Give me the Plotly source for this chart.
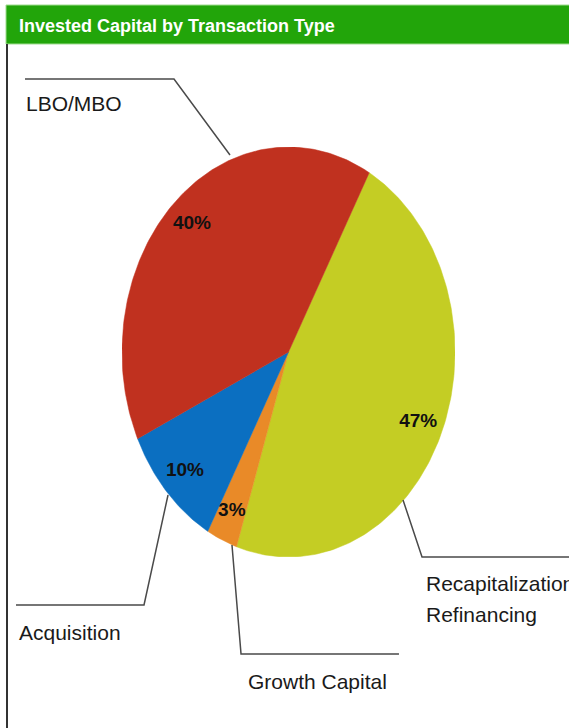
import math
import plotly.graph_objects as go

# ---- data ----
categories = ["Recapitalization/ Refinancing", "Growth Capital", "Acquisition", "LBO/MBO"]
shares = [47, 3, 10, 40]
pct_labels = ["47%", "3%", "10%", "40%"]
colors = ["#C4CD24", "#E98A28", "#0B6FC1", "#C0311F"]
title_text = "Invested Capital by Transaction Type"

W, H = 569, 728
START_DEG = 29  # first slice boundary, clockwise from 12 o'clock


def px(x):
    return x / W


def py(y):
    return 1 - y / H


fig = go.Figure()
total = sum(shares)
start = START_DEG
for cat, v, lab, col in zip(categories, shares, pct_labels, colors):
    span = 360 * v / total
    n = max(int(span), 4)
    xs, ys = [0.0], [0.0]
    for i in range(n + 1):
        a = math.radians(start + span * i / n)
        xs.append(math.sin(a))
        ys.append(math.cos(a))
    xs.append(0.0)
    ys.append(0.0)
    fig.add_trace(go.Scatter(x=xs, y=ys, fill="toself", fillcolor=col,
                             line=dict(color=col, width=0.5), mode="lines",
                             name=cat, hoverinfo="name", showlegend=False))
    mid = math.radians(start + span / 2)
    fig.add_trace(go.Scatter(x=[0.85 * math.sin(mid)], y=[0.85 * math.cos(mid)],
                             mode="text", text=[lab],
                             textfont=dict(family="Liberation Sans", size=19, color="#111111"),
                             texttemplate="<b>%{text}</b>",
                             hoverinfo="skip", showlegend=False))
    start += span

line_col = "#4a4a4a"
leaders = [
    [(25, 79), (174, 79), (230, 155)],
    [(403, 500), (422, 557), (569, 557)],
    [(168, 495), (144, 605), (16, 605)],
    [(232, 545), (241, 654), (399, 654)],
]
shapes = []
for pts in leaders:
    path = "M " + " L ".join(f"{px(x):.4f},{py(y):.4f}" for x, y in pts)
    shapes.append(dict(type="path", xref="paper", yref="paper", path=path,
                       line=dict(color=line_col, width=1.5)))
# header bar
shapes.append(dict(type="rect", xref="paper", yref="paper", x0=px(6), x1=px(575),
                   y0=py(44), y1=py(5), fillcolor="#22A50A",
                   line=dict(color="#9fdc8f", width=1), layer="below"))
# left border
shapes.append(dict(type="line", xref="paper", yref="paper", x0=px(7), x1=px(7),
                   y0=py(44), y1=py(740), line=dict(color="#333333", width=2)))

lab_font = dict(family="Liberation Sans", size=21, color="#1a1a1a")
annotations = [
    dict(text=f"<b>{title_text}</b>", x=px(17), y=py(26),
         font=dict(family="Liberation Sans", size=18, color="white")),
    dict(text=categories[3], x=px(24), y=py(104), font=lab_font),
    dict(text="Recapitalization/", x=px(424), y=py(583), font=lab_font),
    dict(text="Refinancing", x=px(424), y=py(614), font=lab_font),
    dict(text=categories[2], x=px(17), y=py(632), font=lab_font),
    dict(text=categories[1], x=px(246), y=py(681), font=lab_font),
]
for a in annotations:
    a.update(xref="paper", yref="paper", xanchor="left", yanchor="middle",
             showarrow=False)

fig.update_layout(
    width=W, height=H,
    margin=dict(l=0, r=0, t=0, b=0),
    paper_bgcolor="white", plot_bgcolor="white",
    xaxis=dict(range=[-1, 1], domain=[px(122), px(455)], visible=False, fixedrange=True),
    yaxis=dict(range=[-1, 1], domain=[py(557), py(147)], visible=False, fixedrange=True),
    shapes=shapes, annotations=annotations,
    showlegend=False,
)

fig.write_html("out.html", config={"displayModeBar": False},
               post_script="document.body.style.margin='0';document.body.style.overflow='hidden';")
